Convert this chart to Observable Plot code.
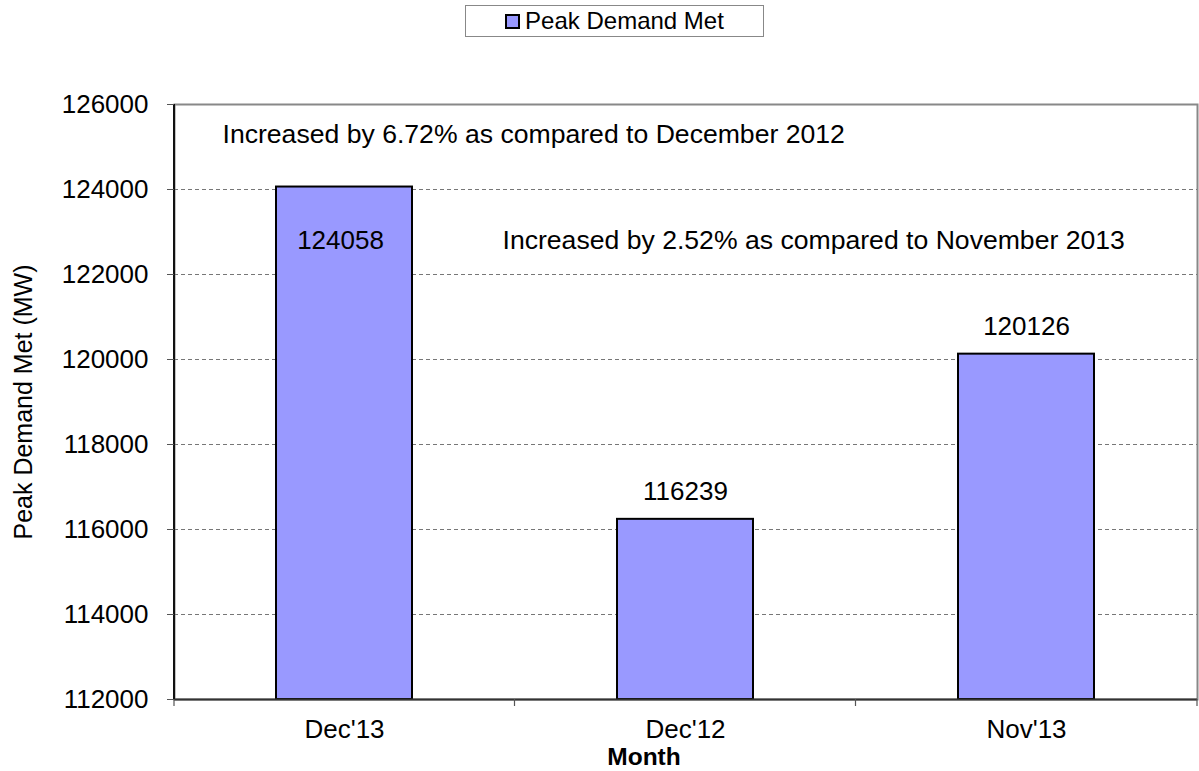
<!DOCTYPE html>
<html>
<head>
<meta charset="utf-8">
<script src="https://cdn.jsdelivr.net/npm/d3@7"></script>
<script src="https://cdn.jsdelivr.net/npm/@observablehq/plot@0.6"></script>
<style>
  html, body { margin: 0; padding: 0; background: #fff; }
  body { width: 1199px; height: 771px; overflow: hidden; font-family: "Liberation Sans", Arial, sans-serif; }
  #legend { position: relative; height: 50px; }
  #legend .box { position: absolute; left: 465px; top: 5px; width: 299px; height: 32px; border: 1px solid #888; box-sizing: border-box;
    display: flex; align-items: center; justify-content: center; font-size: 24px; color: #000; }
  #legend .sw { width: 11px; height: 11px; border: 2px solid #000; background: #9999FF; margin-right: 5px; }
  #chart svg { display: block; }
</style>
</head>
<body>
<div id="legend"></div>
<div id="chart"></div>
<script>
// ---- data ----
const months = ["Dec'13", "Dec'12", "Nov'13"];
const peakDemand = [124058, 116239, 120126];
const yTicks = [112000, 114000, 116000, 118000, 120000, 122000, 124000, 126000];
const seriesName = "Peak Demand Met";
const yTitle = "Peak Demand Met (MW)";
const xTitle = "Month";
const annotationTexts = [
  "Increased by 6.72% as compared to December 2012",
  "Increased by 2.52% as compared to November 2013"
];
const annotationMonths = ["Dec'13", "Dec'12"];
const annotationLevels = [125100, 122600];

// ---- legend ----
const lg = document.getElementById("legend");
lg.innerHTML = `<div class="box"><span class="sw"></span><span>${seriesName}</span></div>`;

// ---- chart ----
const rows = months.map((m, i) => ({month: m, value: peakDemand[i]}));
const maxVal = d3.max(peakDemand);
const ann = annotationTexts.map((t, i) => ({text: t, month: annotationMonths[i], level: annotationLevels[i]}));
const font = "Liberation Sans, Arial, sans-serif";

function axisDecor(index, scales, values, dimensions) {
  let xs = scales.x;
  const xf = typeof xs === "function" ? xs : (v) => xs.apply(v);
  let bw = typeof xs.bandwidth === "function" ? xs.bandwidth() : xs.bandwidth;
  if (bw == null && scales.scales && scales.scales.x) {
    const s = scales.scales.x;
    bw = typeof s.bandwidth === "function" ? s.bandwidth() : s.bandwidth;
  }
  bw = bw || 0;
  const {width, height, marginLeft, marginRight, marginTop, marginBottom} = dimensions;
  const bottom = height - marginBottom;
  const centers = months.map(m => xf(m) + bw / 2);
  const bounds = [marginLeft, ...d3.pairs(centers, (a, b) => (a + b) / 2), width - marginRight];
  const g = d3.create("svg:g");
  g.selectAll("line.bt").data(bounds).join("line")
    .attr("x1", d => d).attr("x2", d => d)
    .attr("y1", bottom).attr("y2", bottom + 7)
    .attr("stroke", "#555").attr("stroke-width", 1.2);
  g.append("line")
    .attr("x1", marginLeft).attr("x2", marginLeft)
    .attr("y1", marginTop).attr("y2", bottom)
    .attr("stroke", "#111").attr("stroke-width", 2);
  return g.node();
}

const chart = Plot.plot({
  width: 1199,
  height: 721,
  marginTop: 54,
  marginBottom: 72,
  marginLeft: 174,
  marginRight: 2,
  style: {fontFamily: font, fontSize: "26px", color: "#000", background: "#fff", overflow: "visible"},
  x: {domain: months, paddingInner: 0.6, paddingOuter: 0.3, label: null},
  y: {domain: [yTicks[0], yTicks[yTicks.length - 1]], label: null},
  marks: [
    Plot.frame({stroke: "#888", strokeWidth: 2}),
    Plot.gridY(yTicks.slice(1, -1), {stroke: "#777", strokeOpacity: 1, strokeDasharray: "4,3", strokeWidth: 1}),
    Plot.barY(rows, {x: "month", y1: yTicks[0], y2: "value", fill: "#9999FF", stroke: "#000", strokeWidth: 2}),
    Plot.ruleY([yTicks[0]], {stroke: "#333", strokeWidth: 2}),
    axisDecor,
    Plot.axisY(yTicks, {tickSize: 7, tickPadding: 19, tickFormat: d3.format("d"), fontSize: 26, stroke: "#555", label: null}),
    Plot.axisX({tickSize: 0, tickPadding: 20, fontSize: 26, label: null}),
    Plot.text(rows.filter(d => d.value === maxVal), {x: "month", y: "value", text: d => String(d.value), lineAnchor: "bottom", dy: 62, dx: -4, fontSize: 26, fill: "#000"}),
    Plot.text(rows.filter(d => d.value !== maxVal), {x: "month", y: "value", text: d => String(d.value), lineAnchor: "bottom", dy: -19, fontSize: 26, fill: "#000"}),
    Plot.text(ann.slice(0, 1), {x: "month", y: "level", text: "text", textAnchor: "start", lineAnchor: "bottom", dx: -122, fontSize: 26.6, fill: "#000"}),
    Plot.text(ann.slice(1, 2), {x: "month", y: "level", text: "text", textAnchor: "start", lineAnchor: "bottom", dx: -183, fontSize: 26.6, fill: "#000"}),
    Plot.text([yTitle], {frameAnchor: "left", rotate: -90, lineAnchor: "middle", textAnchor: "middle", dx: -151, fontSize: 25, fill: "#000"}),
    Plot.text([xTitle], {frameAnchor: "bottom", lineAnchor: "bottom", dx: -42, dy: 65, fontSize: 24.5, fontWeight: "bold", fill: "#000"})
  ]
});
document.getElementById("chart").appendChild(chart);
</script>
</body>
</html>
